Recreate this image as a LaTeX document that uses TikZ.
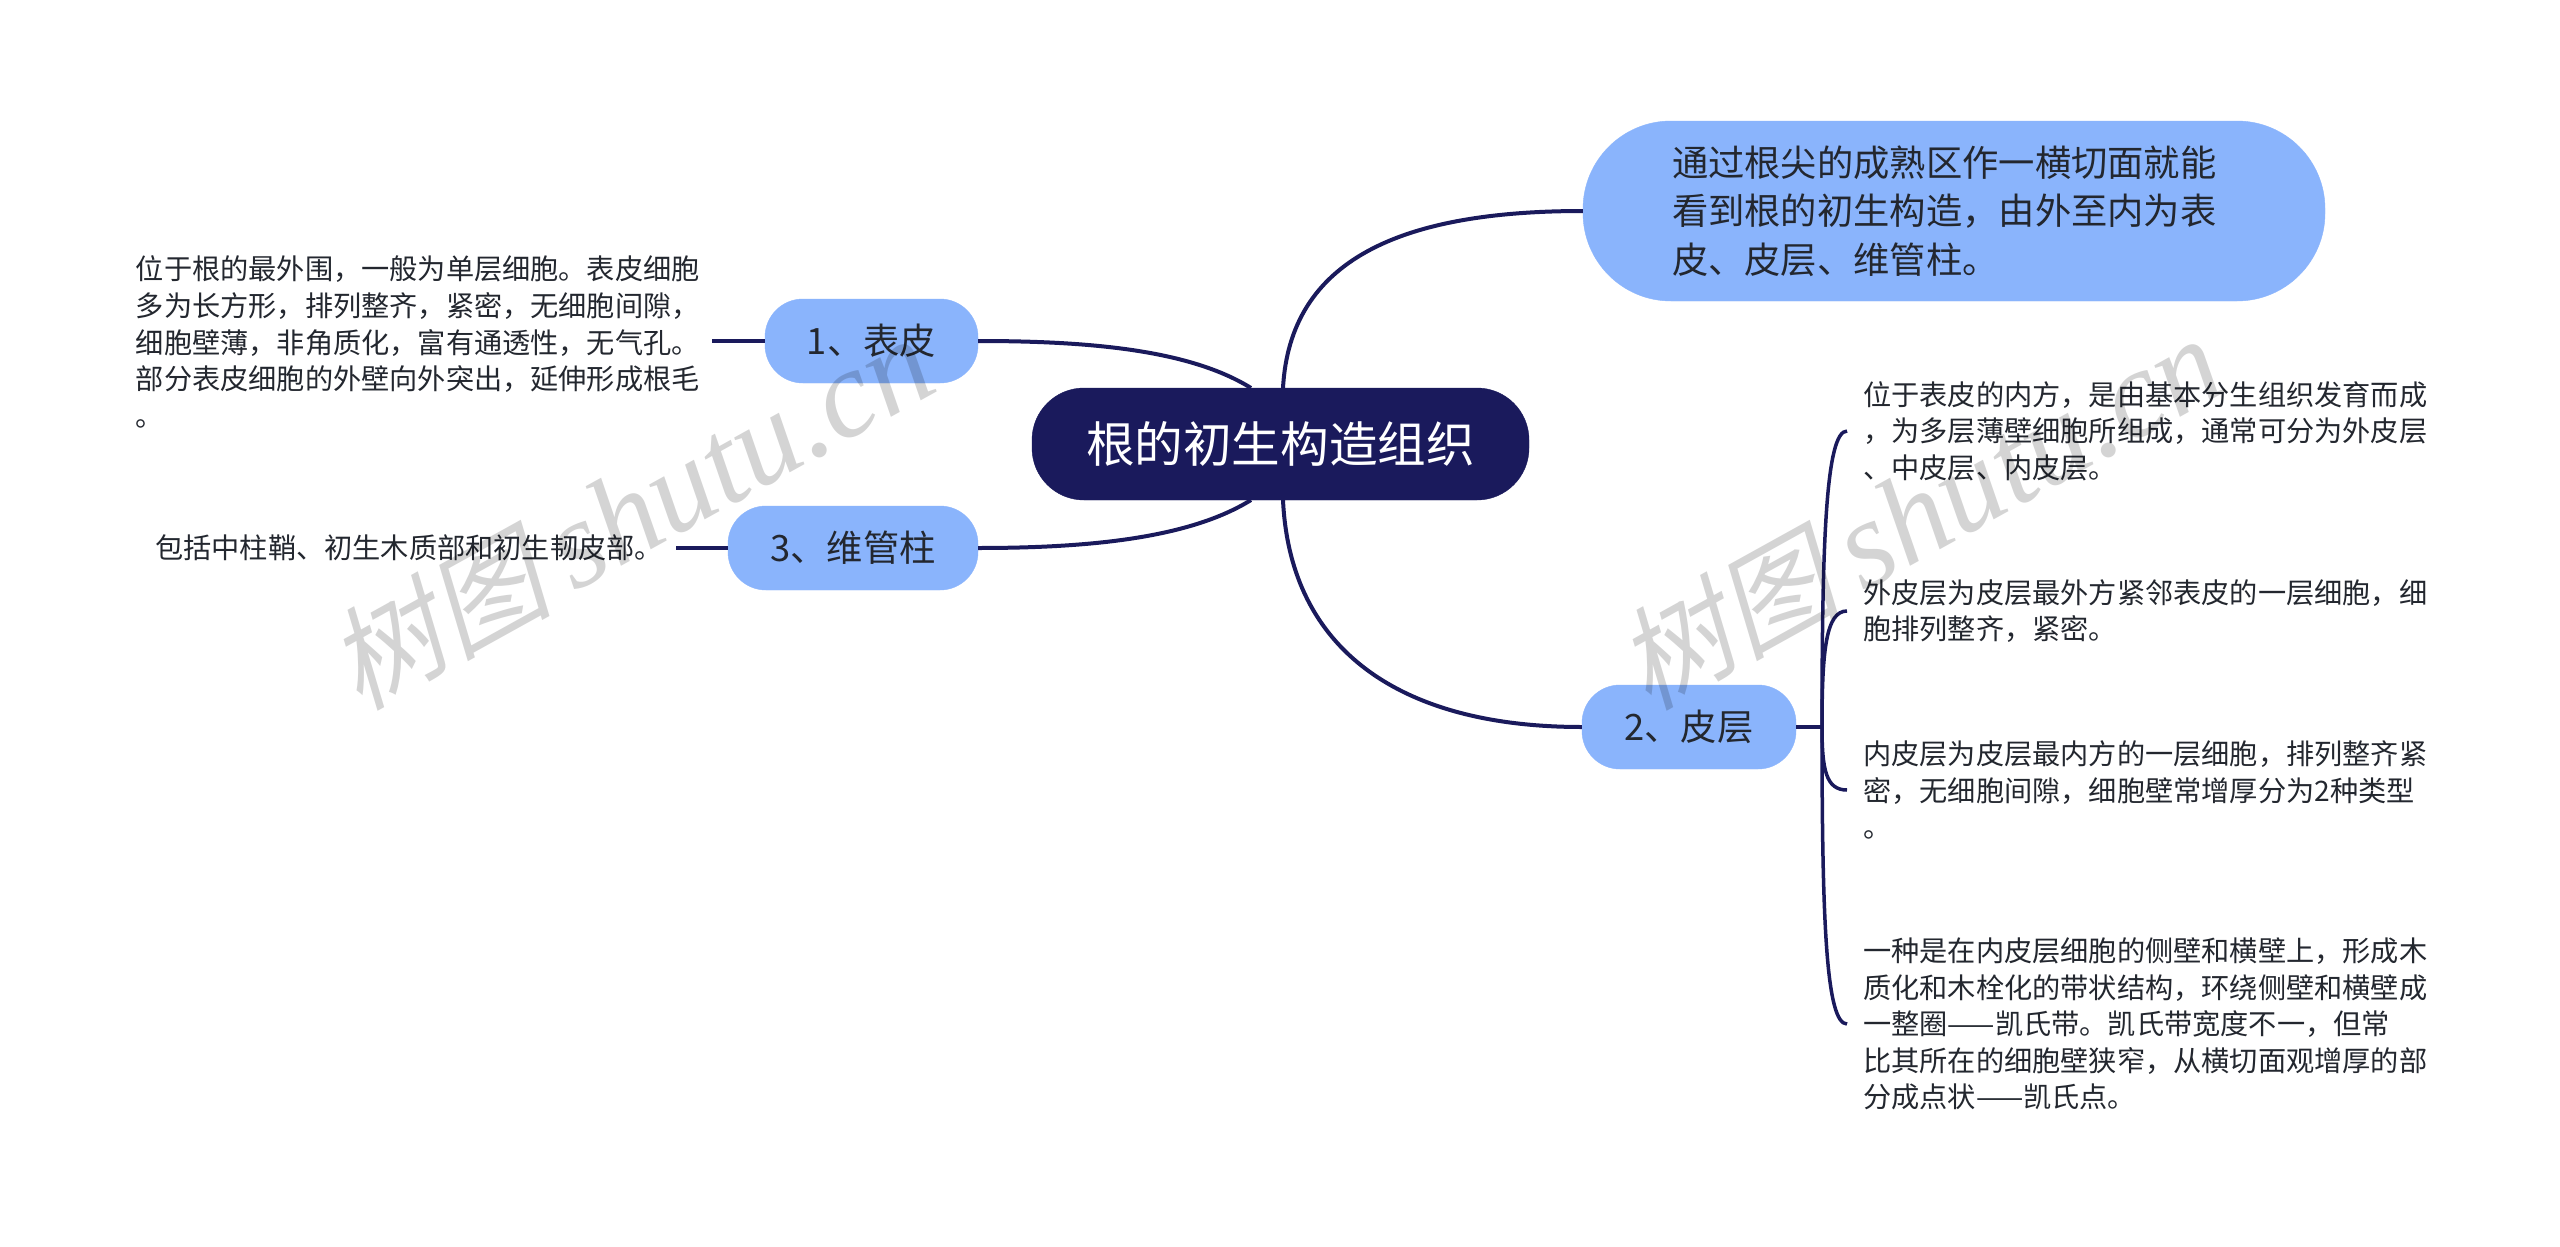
\documentclass[tikz,border=0pt]{standalone}
\usepackage{fontspec}
\setmainfont{Liberation Sans}
\newfontfamily\cjk{Noto Sans CJK SC}
\newfontfamily\cjkslant[FakeSlant=0.22]{Noto Sans CJK SC}
\newfontfamily\wmlatin{Liberation Serif Italic}
\definecolor{navy}{HTML}{1A1A5C}
\definecolor{skyfill}{HTML}{8AB4FC}
\definecolor{ink}{HTML}{23272F}
\tikzset{
  rootbox/.style={fill=navy,draw=navy,rounded corners=52pt,minimum width=497pt,minimum height=112pt,inner sep=0pt,text=white,font=\cjk\fontsize{48.6}{56}\selectfont},
  branchbox/.style={fill=skyfill,draw=skyfill,rounded corners=38pt,minimum height=84pt,inner sep=0pt,text=ink,font=\cjk\fontsize{36.3}{48}\selectfont},
  leaftext/.style={inner ysep=0pt,inner xsep=16pt,align=left,text=ink,font=\cjk\fontsize{28.2}{36.6}\selectfont},
  link/.style={draw=navy,line width=4pt,line cap=butt},
  sublink/.style={draw=navy,line width=3.5pt},
  wm/.style={rotate=29,text=black,opacity=0.17,inner sep=0pt}
}
\begin{document}
\begin{tikzpicture}[x=1pt,y=-1pt]
\useasboundingbox[fill=white] (0,0) rectangle (2560,1247);
\node[rootbox] (root) at (1280.5,444) {根的初生构造组织};
\node[branchbox,rounded corners=88pt,minimum width=742pt,minimum height=180pt,text width=564pt,inner xsep=89pt,align=left,font=\cjk\fontsize{36.3}{48.6}\selectfont] (intro) at (1954,211) {通过根尖的成熟区作一横切面就能\\看到根的初生构造，由外至内为表\\皮、皮层、维管柱。};
\node[branchbox,minimum width=213pt] (b1) at (871.5,341) {1、表皮};
\node[branchbox,minimum width=250pt] (b3) at (853,548) {3、维管柱};
\node[branchbox,minimum width=214pt] (b2) at (1689,727) {2、皮层};
\node[leaftext,anchor=east,inner xsep=12pt] (l1) at (712,342) {位于根的最外围，一般为单层细胞。表皮细胞\\多为长方形，排列整齐，紧密，无细胞间隙，\\细胞壁薄，非角质化，富有通透性，无气孔。\\部分表皮细胞的外壁向外突出，延伸形成根毛\\。};
\node[leaftext,anchor=east,inner xsep=13pt] (l3) at (676,548) {包括中柱鞘、初生木质部和初生韧皮部。};
\node[leaftext,anchor=west] (r1) at (1847,431) {位于表皮的内方，是由基本分生组织发育而成\\，为多层薄壁细胞所组成，通常可分为外皮层\\、中皮层、内皮层。};
\node[leaftext,anchor=west] (r2) at (1847,611) {外皮层为皮层最外方紧邻表皮的一层细胞，细\\胞排列整齐，紧密。};
\node[leaftext,anchor=west] (r3) at (1847,790) {内皮层为皮层最内方的一层细胞，排列整齐紧\\密，无细胞间隙，细胞壁常增厚分为2种类型\\。};
\node[leaftext,anchor=west] (r4) at (1847,1024) {一种是在内皮层细胞的侧壁和横壁上，形成木\\质化和木栓化的带状结构，环绕侧壁和横壁成\\一整圈——凯氏带。凯氏带宽度不一，但常\\比其所在的细胞壁狭窄，从横切面观增厚的部\\分成点状——凯氏点。};
\coordinate (hub) at (1822,727);
\coordinate (rtr) at (1283,388);
\coordinate (rtl) at (1251,388);
\coordinate (rbr) at (1283,500);
\coordinate (rbl) at (1251,500);
\draw[link] (rtr) .. controls (1290,260) and (1400,211) .. (intro.west);
\draw[link] (rbr) .. controls (1290,650) and (1400,727) .. (b2.west);
\draw[link] (rtl) .. controls (1190,350) and (1090,341) .. (b1.east);
\draw[link] (rbl) .. controls (1190,538) and (1090,548) .. (b3.east);
\draw[link] (b1.west) -- (l1.east |- b1.west);
\draw[link] (b3.west) -- (l3.east);
\draw[link] (b2.east) -- (hub);
\draw[sublink] (hub) .. controls (1822,540) and (1826,431) .. (r1.west);
\draw[sublink] (hub) .. controls (1822,650) and (1826,611) .. (r2.west);
\draw[sublink] (hub) .. controls (1822,770) and (1826,790) .. (r3.west);
\draw[sublink] (hub) .. controls (1822,920) and (1826,1024) .. (r4.west);
\node[wm] (w1) at (630,513) {\cjkslant\fontsize{112}{112}\selectfont 树图\hspace{22pt}\wmlatin\fontsize{125}{125}\selectfont shutu.cn};
\node[wm] (w2) at (1919,513) {\cjkslant\fontsize{112}{112}\selectfont 树图\hspace{22pt}\wmlatin\fontsize{125}{125}\selectfont shutu.cn};
\end{tikzpicture}
\end{document}
